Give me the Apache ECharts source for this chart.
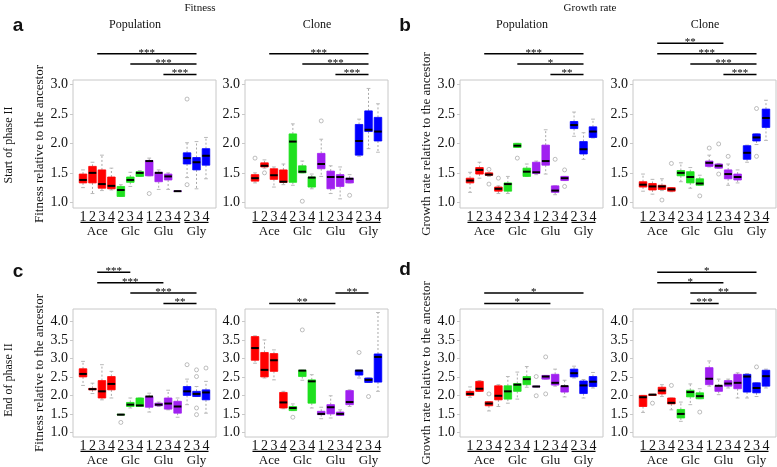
<!DOCTYPE html>
<html>
<head>
<meta charset="utf-8">
<script src="https://cdn.jsdelivr.net/npm/echarts@6/dist/echarts.min.js"></script>
<style>html,body{margin:0;padding:0;background:#fff;}#c{width:777px;height:467px;}</style>
</head>
<body>
<div id="c"></div>
<script>
// ---------------- data ----------------
const categories = ['Ace 1','Ace 2','Ace 3','Ace 4','Glc 2','Glc 3','Glc 4','Glu 1','Glu 2','Glu 3','Glu 4','Gly 2','Gly 3','Gly 4'];
const groupNames = ['Ace','Glc','Glu','Gly'];
const groupColors = ['#FF0000','#1EE01E','#A020F0','#0000FF'];
const yTicksTop = [1.0, 1.5, 2.0, 2.5, 3.0];
const yTicksBottom = [1.0, 1.5, 2.0, 2.5, 3.0, 3.5, 4.0];

// box stats: [min, q1, median, q3, max] per category
const aPopBoxes = [
  [1.25,1.33,1.38,1.48,1.55],[1.15,1.33,1.50,1.61,1.68],[1.20,1.24,1.31,1.55,1.80],[1.21,1.23,1.28,1.43,1.58],
  [1.10,1.10,1.21,1.27,1.30],[1.27,1.34,1.38,1.43,1.51],[1.44,1.44,1.50,1.52,1.54],
  [1.45,1.45,1.70,1.71,1.75],[1.22,1.35,1.50,1.51,1.55],[1.22,1.38,1.44,1.48,1.50],[1.185,1.185,1.19,1.195,1.195],
  [1.42,1.65,1.75,1.84,2.01],[1.23,1.55,1.68,1.76,2.03],[1.40,1.63,1.79,1.91,2.10]
];
const aPopOut = [[7,1.15],[11,2.75],[11,1.30]];
const aCloneBoxes = [
  [1.33,1.36,1.41,1.47,1.50],[1.58,1.60,1.62,1.67,1.72],[1.26,1.39,1.46,1.57,1.60],[1.30,1.34,1.35,1.55,1.65],
  [1.29,1.34,2.03,2.16,2.33],[1.50,1.50,1.52,1.62,1.70],[1.23,1.26,1.42,1.43,1.48],
  [1.44,1.57,1.65,1.83,2.07],[1.15,1.23,1.43,1.53,1.62],[1.06,1.27,1.43,1.47,1.60],[1.33,1.33,1.40,1.41,1.47],
  [1.78,1.80,2.04,2.32,2.41],[1.91,2.20,2.23,2.55,2.93],[1.85,2.04,2.20,2.44,2.67]
];
const aCloneOut = [[0,1.75],[1,1.50],[5,1.02],[7,2.38],[10,1.12]];
const bPopBoxes = [
  [1.17,1.33,1.37,1.41,1.51],[1.41,1.48,1.55,1.59,1.68],[1.44,1.46,1.47,1.50,1.50],[1.15,1.19,1.23,1.26,1.28],
  [1.15,1.19,1.31,1.33,1.44],[1.93,1.93,1.96,2.00,2.00],[1.44,1.44,1.52,1.58,1.65],
  [1.47,1.49,1.51,1.68,1.70],[1.48,1.63,1.70,1.97,2.23],[1.13,1.17,1.20,1.28,1.28],[1.37,1.37,1.41,1.44,1.44],
  [2.12,2.25,2.31,2.37,2.53],[1.73,1.82,1.90,2.03,2.18],[2.09,2.10,2.20,2.28,2.41]
];
const bPopOut = [[2,1.56],[2,1.31],[3,1.41],[5,1.75],[9,1.73],[10,1.55],[10,1.27]];
const bCloneBoxes = [
  [1.19,1.26,1.30,1.35,1.48],[1.14,1.21,1.27,1.32,1.39],[1.20,1.22,1.27,1.29,1.40],[1.18,1.19,1.22,1.25,1.25],
  [1.35,1.45,1.50,1.54,1.67],[1.24,1.33,1.43,1.52,1.59],[1.29,1.29,1.32,1.40,1.46],
  [1.60,1.61,1.67,1.70,1.80],[1.58,1.58,1.62,1.65,1.66],[1.29,1.40,1.48,1.55,1.65],[1.33,1.38,1.43,1.48,1.55],
  [1.68,1.73,1.84,1.96,1.97],[1.98,2.04,2.10,2.16,2.16],[2.05,2.27,2.43,2.58,2.73]
];
const bCloneOut = [[2,1.04],[3,1.66],[6,1.11],[7,1.92],[8,1.99],[8,1.48],[9,1.78],[12,2.59],[12,1.78]];
const cPopBoxes = [
  [2.27,2.50,2.58,2.72,2.92],[2.05,2.15,2.17,2.19,2.33],[1.88,1.93,2.11,2.40,2.83],[1.93,2.15,2.31,2.51,2.65],
  [1.47,1.47,1.48,1.49,1.49],[1.66,1.70,1.75,1.81,1.93],[1.70,1.70,1.73,1.93,1.93],
  [1.55,1.68,1.97,1.97,2.06],[1.70,1.72,1.75,1.79,1.82],[1.61,1.63,1.78,1.93,2.14],[1.41,1.52,1.70,1.84,1.93],
  [1.75,2.00,2.11,2.24,2.44],[1.97,1.97,2.04,2.11,2.24],[1.52,1.88,2.08,2.15,2.38]
];
const cPopOut = [[4,1.27],[11,2.83],[12,2.69],[12,2.51],[12,1.66],[12,1.48],[13,2.74]];
const cCloneBoxes = [
  [2.87,2.95,3.28,3.59,3.61],[2.47,2.50,2.69,3.16,3.50],[2.42,2.65,2.95,3.13,3.23],[1.64,1.66,1.81,2.08,2.11],
  [1.59,1.59,1.66,1.70,1.77],[2.41,2.51,2.67,2.68,2.68],[1.66,1.79,2.38,2.42,2.56],
  [1.37,1.48,1.50,1.57,1.68],[1.39,1.50,1.68,1.75,1.99],[1.46,1.46,1.50,1.55,1.61],[1.70,1.75,1.82,2.13,2.15],
  [2.47,2.55,2.67,2.68,2.68],[2.35,2.35,2.42,2.47,2.47],[2.11,2.36,3.04,3.12,4.24]
];
const cCloneOut = [[4,1.41],[5,3.77],[11,3.16],[12,1.97]];
const dPopBoxes = [
  [1.95,2.00,2.04,2.11,2.23],[2.11,2.11,2.18,2.38,2.40],[1.58,1.72,1.78,1.83,1.83],[1.70,1.88,1.99,2.26,2.29],
  [1.79,1.90,2.11,2.26,2.51],[1.90,2.11,2.29,2.32,2.63],[2.22,2.29,2.44,2.51,2.78],
  [2.23,2.23,2.24,2.25,2.25],[2.44,2.44,2.51,2.54,2.54],[2.25,2.28,2.34,2.57,2.71],[1.96,2.09,2.25,2.25,2.41],
  [2.47,2.50,2.60,2.71,2.79],[1.93,2.05,2.27,2.39,2.43],[2.20,2.24,2.37,2.51,2.62]
];
const dPopOut = [[2,2.04],[7,2.51],[7,1.99],[8,3.04],[8,2.04]];
const dCloneBoxes = [
  [1.54,1.70,1.95,2.00,2.00],[2.00,2.00,2.02,2.03,2.03],[1.97,2.04,2.13,2.22,2.29],[1.61,1.77,1.80,1.93,1.93],
  [1.30,1.39,1.50,1.62,1.82],[1.75,1.96,2.09,2.14,2.31],[1.91,1.91,1.98,2.07,2.18],
  [2.25,2.29,2.45,2.75,2.93],[2.02,2.11,2.26,2.26,2.44],[2.20,2.25,2.32,2.40,2.44],[1.93,2.18,2.34,2.57,2.61],
  [1.93,2.09,2.51,2.57,2.59],[1.97,2.07,2.20,2.34,2.34],[2.20,2.25,2.52,2.68,2.71]
];
const dCloneOut = [[1,1.79],[3,2.27],[6,1.55],[12,2.77]];

// significance bars: [from position, to position (category index units), level, label]
const aPopSig = [[1.5,12,2,'***'],[5,12,1,'***'],[8.5,12,0,'***']];
const aCloneSig = [[1.5,12,2,'***'],[5,12,1,'***'],[8.5,12,0,'***']];
const bPopSig = [[1.5,12,2,'***'],[5,12,1,'*'],[8.5,12,0,'**']];
const bCloneSig = [[1.5,8.5,3,'**'],[1.5,12,2,'***'],[5,12,1,'***'],[8.5,12,0,'***']];
const cPopSig = [[1.5,5,3,'***'],[1.5,8.5,2,'***'],[5,12,1,'***'],[8.5,12,0,'**']];
const cCloneSig = [[8.5,12,1,'**'],[1.5,8.5,0,'**']];
const dPopSig = [[1.5,12,1,'*'],[1.5,8.5,0,'*']];
const dCloneSig = [[1.5,12,3,'*'],[1.5,8.5,2,'*'],[5,12,1,'**'],[5,8,0,'***']];

// ---------------- layout ----------------
const SERIF = '"Liberation Serif","DejaVu Serif",serif';
const SANS = '"Liberation Sans","DejaVu Sans",sans-serif';
const FRAME_LEFT = [73, 245, 460, 633];
const FRAME_W = 143, FRAME_H = 128;
const ROW_TOP = [80, 309];
const ROW_Y = [[0.905, 3.073], [0.876, 4.335]];
const PAD = 0.56, SPAN = 14 + 2 * PAD;

const panels = [
  {boxes:aPopBoxes, out:aPopOut, sig:aPopSig, row:0, col:0, yName:'Fitness relative to the ancestor'},
  {boxes:aCloneBoxes, out:aCloneOut, sig:aCloneSig, row:0, col:1, yName:''},
  {boxes:bPopBoxes, out:bPopOut, sig:bPopSig, row:0, col:2, yName:'Growth rate relative to the ancestor'},
  {boxes:bCloneBoxes, out:bCloneOut, sig:bCloneSig, row:0, col:3, yName:''},
  {boxes:cPopBoxes, out:cPopOut, sig:cPopSig, row:1, col:0, yName:'Fitness relative to the ancestor'},
  {boxes:cCloneBoxes, out:cCloneOut, sig:cCloneSig, row:1, col:1, yName:''},
  {boxes:dPopBoxes, out:dPopOut, sig:dPopSig, row:1, col:2, yName:'Growth rate relative to the ancestor'},
  {boxes:dCloneBoxes, out:dCloneOut, sig:dCloneSig, row:1, col:3, yName:''}
];

function groupOf(i) { return groupNames.indexOf(categories[i].split(' ')[0]); }

function boxRender(boxes) {
  return function (params, api) {
    const i = params.dataIndex;
    const b = boxes[i];
    const band = api.size([1, 0])[0];
    const hw = band * 0.4, cw = band * 0.2;
    const cx = api.coord([i, b[0]])[0];
    const yv = b.map(v => api.coord([i, v])[1]);
    const col = groupColors[groupOf(i)];
    const whisk = {stroke:'#a8a8a8', lineWidth:1, lineDash:[2,2]};
    const cap = {stroke:'#b8b8b8', lineWidth:1};
    return {type:'group', children:[
      {type:'line', shape:{x1:cx, y1:yv[3], x2:cx, y2:yv[4]}, style:whisk},
      {type:'line', shape:{x1:cx, y1:yv[1], x2:cx, y2:yv[0]}, style:whisk},
      {type:'line', shape:{x1:cx-cw, y1:yv[4], x2:cx+cw, y2:yv[4]}, style:cap},
      {type:'line', shape:{x1:cx-cw, y1:yv[0], x2:cx+cw, y2:yv[0]}, style:cap},
      {type:'rect', shape:{x:cx-hw, y:yv[3], width:2*hw, height:Math.max(yv[1]-yv[3], 0.5)}, style:{fill:col, stroke:col, lineWidth:0.8}},
      {type:'line', shape:{x1:cx-hw, y1:yv[2], x2:cx+hw, y2:yv[2]}, style:{stroke:'#000', lineWidth:2}}
    ]};
  };
}

function sigRender(sig) {
  return function (params, api) {
    const s = sig[params.dataIndex];
    const band = api.size([1, 0])[0];
    const x0 = api.coord([0, 1])[0];
    const x1 = x0 + s[0] * band, x2 = x0 + s[1] * band;
    const y = params.coordSys.y - 5.5 - s[2] * 10.4;
    return {type:'group', children:[
      {type:'line', shape:{x1:x1, y1:y, x2:x2, y2:y}, style:{stroke:'#000', lineWidth:1.5}},
      {type:'text', x:(x1+x2)/2, y:y-1, style:{text:s[3], fill:'#000', font:'11px ' + SERIF,
        textAlign:'center', textVerticalAlign:'middle', align:'center', verticalAlign:'middle'}}
    ]};
  };
}

function groupRender(params, api) {
  const g = groupNames[params.dataIndex];
  const idx = categories.map((c, i) => c.split(' ')[0] === g ? i : -1).filter(i => i >= 0);
  const band = api.size([1, 0])[0];
  const xa = api.coord([idx[0], 1])[0] - 0.27 * band;
  const xb = api.coord([idx[idx.length - 1], 1])[0] + 0.27 * band;
  const yb = params.coordSys.y + params.coordSys.height;
  return {type:'group', children:[
    {type:'line', shape:{x1:xa, y1:yb+14.4, x2:xb, y2:yb+14.4}, style:{stroke:'#000', lineWidth:1.2}},
    {type:'text', x:(xa+xb)/2, y:yb+23.5, style:{text:g, fill:'#111', font:'13px ' + SERIF,
      textAlign:'center', textVerticalAlign:'middle', align:'center', verticalAlign:'middle'}}
  ]};
}

const grid = [], xAxis = [], yAxis = [], series = [];
panels.forEach((p, k) => {
  const L = FRAME_LEFT[p.col], T = ROW_TOP[p.row];
  const u = FRAME_W / SPAN;
  const fg = 2 * k, dg = 2 * k + 1;
  grid.push({left:L, top:T, width:FRAME_W, height:FRAME_H, show:true, borderColor:'#c8c8c8', borderWidth:1, backgroundColor:'transparent'});
  grid.push({left:L + PAD * u, top:T, width:14 * u, height:FRAME_H});
  xAxis.push({gridIndex:fg, type:'value', show:false, min:0, max:1});
  yAxis.push({gridIndex:fg, type:'value', show:false, min:0, max:1});
  xAxis.push({gridIndex:dg, type:'category', data:categories, boundaryGap:true,
    axisLine:{show:false}, axisTick:{show:false},
    axisLabel:{interval:0, margin:2, fontSize:14, fontFamily:SERIF, color:'#111', formatter:v => v.split(' ')[1]}});
  const yr = ROW_Y[p.row];
  yAxis.push({gridIndex:dg, type:'value', min:yr[0], max:yr[1], offset:PAD * u,
    axisLine:{show:false}, axisTick:{show:true, length:3, lineStyle:{color:'#c8c8c8'}}, splitLine:{show:false},
    axisLabel:{margin:5, fontSize:14, fontFamily:SERIF, color:'#111', showMinLabel:false, showMaxLabel:false,
      formatter:v => v.toFixed(1)},
    name:p.yName, nameLocation:'middle', nameGap:27,
    nameTextStyle:{fontSize:13, fontFamily:SERIF, color:'#111'}});
  series.push({type:'custom', xAxisIndex:dg, yAxisIndex:dg, renderItem:boxRender(p.boxes),
    data:p.boxes.map((b, i) => [i].concat(b)), encode:{x:0, y:[1,2,3,4,5]}, silent:true, z:3});
  series.push({type:'scatter', xAxisIndex:dg, yAxisIndex:dg, data:p.out, symbol:'circle', symbolSize:4,
    itemStyle:{color:'rgba(0,0,0,0)', borderColor:'#999', borderWidth:0.8}, silent:true, z:4});
  series.push({type:'custom', xAxisIndex:dg, yAxisIndex:dg, renderItem:sigRender(p.sig),
    data:p.sig.map(s => [0, yr[0]]), silent:true, clip:false, z:5});
  series.push({type:'custom', xAxisIndex:dg, yAxisIndex:dg, renderItem:groupRender,
    data:groupNames.map(() => [0, yr[0]]), silent:true, clip:false, z:5});
});

function txt(text, x, y, font, rot) {
  return {type:'text', x:x, y:y, rotation:rot || 0,
    style:{text:text, fill:'#111', font:font, textAlign:'center', textVerticalAlign:'middle', align:'center', verticalAlign:'middle'}};
}
const graphic = [
  txt('Fitness', 200, 8, '11px ' + SERIF),
  txt('Growth rate', 590, 8, '11px ' + SERIF),
  txt('Population', 135, 25, '12px ' + SERIF),
  txt('Clone', 317, 25, '12px ' + SERIF),
  txt('Population', 522, 25, '12px ' + SERIF),
  txt('Clone', 705, 25, '12px ' + SERIF),
  txt('a', 18, 26, 'bold 19px ' + SANS),
  txt('b', 405, 26, 'bold 19px ' + SANS),
  txt('c', 18, 272, 'bold 19px ' + SANS),
  txt('d', 405, 270, 'bold 19px ' + SANS),
  txt('Start of phase II', 9, 145, '12px ' + SERIF, Math.PI / 2),
  txt('End of phase II', 9, 380, '12px ' + SERIF, Math.PI / 2)
];

const chart = echarts.init(document.getElementById('c'), null, {renderer:'canvas'});
chart.setOption({animation:false, backgroundColor:'#fff', grid:grid, xAxis:xAxis, yAxis:yAxis, series:series, graphic:graphic});
</script>
</body>
</html>
